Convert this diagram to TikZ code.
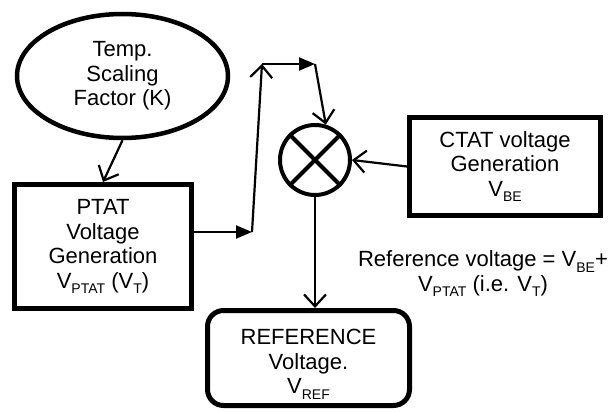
\documentclass[tikz,border=0pt]{standalone}
\usepackage{fontspec}
\setmainfont{Liberation Sans}
\usetikzlibrary{arrows.meta,shapes.geometric}
\newcommand{\vsub}[1]{\raisebox{-5.5pt}{\fontsize{14}{14}\selectfont #1}}

\begin{document}
\begin{tikzpicture}[
    x=1pt,y=-1pt,
    font=\fontsize{22}{24.5}\selectfont,
    genbox/.style={draw,line width=5pt,align=center,inner sep=0pt},
    refbox/.style={genbox,rounded corners=16pt},
    scalenode/.style={draw,ellipse,line width=4.5pt,align=center,inner sep=0pt,minimum width=211pt,minimum height=124pt},
    mixnode/.style={draw,circle,line width=4pt,minimum size=70pt,inner sep=0pt},
    arr/.style={-{Straight Barb[length=12pt,width=22pt]},line width=2.2pt},
    fillarr/.style={-{Triangle[length=16pt,width=13pt]},line width=2.2pt}
  ]
  \useasboundingbox (0,0) rectangle (608,412);
  \node[scalenode] (scale) at (122.5,76) {Temp.\\Scaling\\Factor (K)};
  \node[genbox,minimum width=177pt,minimum height=124pt] (ptat) at (103,246.5) {PTAT\\Voltage\\Generation\\V\vsub{PTAT} (V\vsub{T})};
  \node[genbox,minimum width=191pt,minimum height=98pt] (ctat) at (505,166.5) {CTAT voltage\\Generation\\V\vsub{BE}};
  \node[refbox,minimum width=202pt,minimum height=95pt] (ref) at (308.5,358) {\rule{0pt}{28pt}REFERENCE\\Voltage.\\V\vsub{REF}};
  \node[mixnode] (mix) at (315,160) {};
  \draw[line width=4pt] (mix.north west) -- (mix.south east) (mix.north east) -- (mix.south west);
  \node[align=center] (eqn) at (483,274) {Reference voltage = V\vsub{BE}+\\V\vsub{PTAT} (i.e. V\vsub{T})};
  % feed-forward path of the PTAT term
  \coordinate (riseb) at (252,232);
  \coordinate (riset) at (262,64);
  \coordinate (drop) at (315,64);
  \draw[arr] (scale.south) -- (ptat.north);
  \draw[fillarr] (ptat.east |- riseb) -- (riseb);
  \draw[arr] (riseb) -- (riset);
  \draw[fillarr] (riset) -- (drop);
  \draw[arr] (drop) -- (mix.73);
  \draw[arr] (ctat.west) -- (mix.east);
  \draw[arr] (mix.south) -- (mix.south |- ref.north);
\end{tikzpicture}
\end{document}
